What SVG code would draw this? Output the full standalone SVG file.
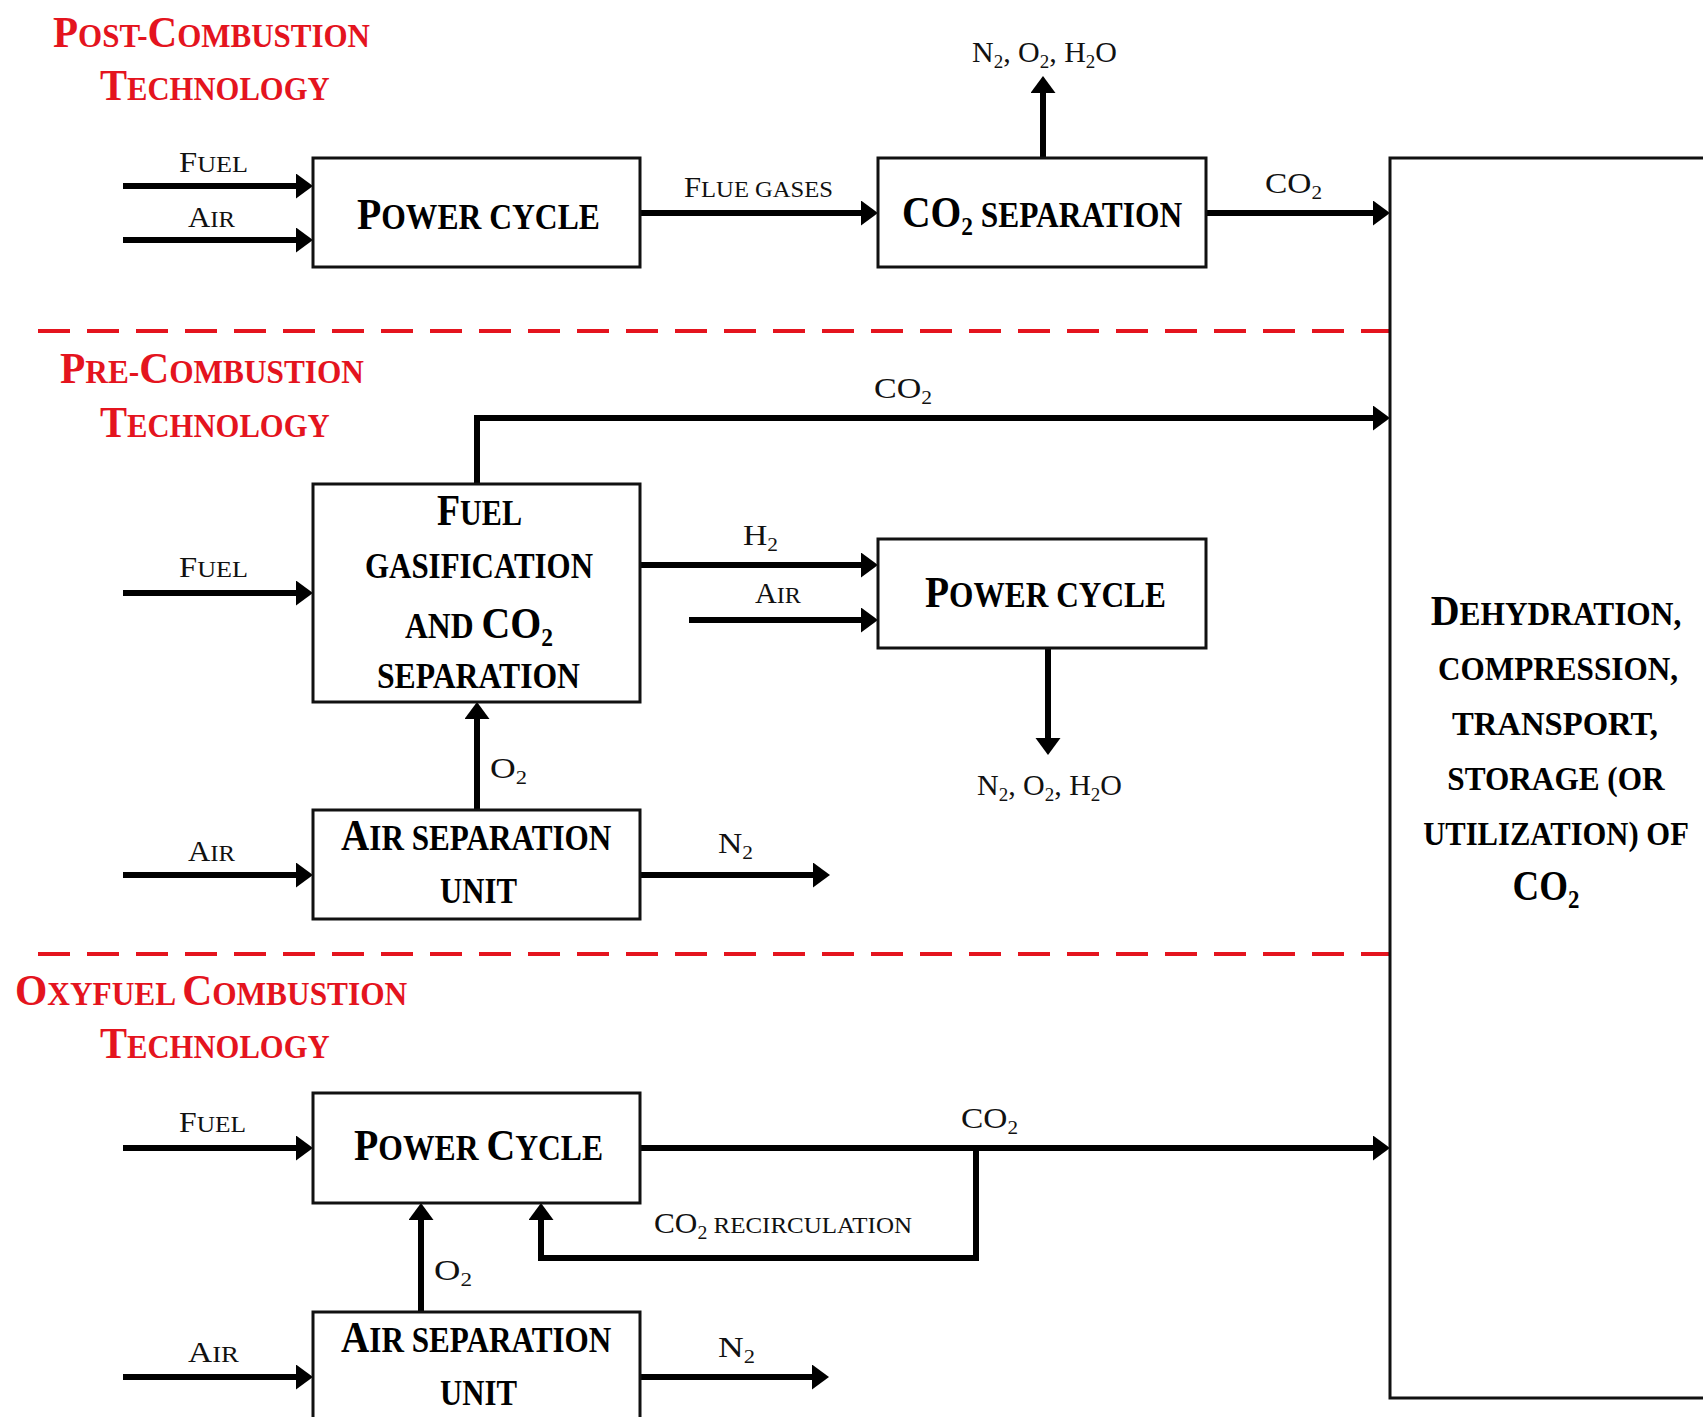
<svg xmlns="http://www.w3.org/2000/svg" width="1703" height="1417" viewBox="0 0 1703 1417">
<style>
text{font-family:"Liberation Serif","Times New Roman",serif}
.t{font-weight:bold;fill:#e4141e}
.tb{font-size:45px}.ts{font-size:34px}
.b{font-weight:bold;fill:#000}
.bb{font-size:44px}.bs{font-size:35px}.bsub{font-size:26px}
.rb{font-size:42px}.rs{font-size:33px}
.m{text-anchor:middle}
.l{fill:#111}
.lb{font-size:30px}.ls{font-size:24px}.sub{font-size:19px}
.box{fill:#fff;stroke:#111;stroke-width:3}
.sep{fill:none;stroke:#e4141e;stroke-width:4;stroke-dasharray:32 17}
.c{fill:none;stroke:#000;stroke-width:6;marker-end:url(#ah)}
</style>
<defs>
<marker id="ah" markerUnits="userSpaceOnUse" markerWidth="18" markerHeight="26" refX="2" refY="12.5" orient="auto">
<path d="M0,0 L17,12.5 L0,25 Z" fill="#000"/>
</marker>
</defs>
<rect width="1703" height="1417" fill="#fff"/>

<g id="titles">
<text class="t" transform="translate(53,47) scale(0.912,1)"><tspan class="tb">P</tspan><tspan class="ts">OST-</tspan><tspan class="tb">C</tspan><tspan class="ts">OMBUSTION</tspan></text>
<text class="t" transform="translate(100,100) scale(0.901,1)"><tspan class="tb">T</tspan><tspan class="ts">ECHNOLOGY</tspan></text>
<text class="t" transform="translate(60,383) scale(0.921,1)"><tspan class="tb">P</tspan><tspan class="ts">RE-</tspan><tspan class="tb">C</tspan><tspan class="ts">OMBUSTION</tspan></text>
<text class="t" transform="translate(100,437) scale(0.901,1)"><tspan class="tb">T</tspan><tspan class="ts">ECHNOLOGY</tspan></text>
<text class="t" transform="translate(15,1005) scale(0.922,1)"><tspan class="tb">O</tspan><tspan class="ts">XYFUEL </tspan><tspan class="tb">C</tspan><tspan class="ts">OMBUSTION</tspan></text>
<text class="t" transform="translate(100,1058) scale(0.901,1)"><tspan class="tb">T</tspan><tspan class="ts">ECHNOLOGY</tspan></text>
</g>

<g id="separators">
<line class="sep" x1="38" y1="331" x2="1390" y2="331"/>
<line class="sep" x1="38" y1="954" x2="1390" y2="954"/>
</g>

<g id="connectors">
<path class="c" d="M123,186 H298"/>
<path class="c" d="M123,240 H298"/>
<path class="c" d="M640,213 H863"/>
<path class="c" d="M1043,158 V91"/>
<path class="c" d="M1206,213 H1375"/>
<path class="c" d="M477,484 V418 H1375"/>
<path class="c" d="M123,593 H298"/>
<path class="c" d="M640,565 H863"/>
<path class="c" d="M689,620 H863"/>
<path class="c" d="M1048,648 V740"/>
<path class="c" d="M477,810 V717"/>
<path class="c" d="M123,875 H298"/>
<path class="c" d="M640,875 H815"/>
<path class="c" d="M123,1148 H298"/>
<path class="c" d="M640,1148 H1375"/>
<path class="c" d="M976,1148 V1258 H541 V1218"/>
<path class="c" d="M421,1312 V1218"/>
<path class="c" d="M123,1377 H298"/>
<path class="c" d="M640,1377 H814"/>
</g>

<g id="labels">
<text class="l" x="179" y="172" textLength="69" lengthAdjust="spacingAndGlyphs"><tspan class="lb">F</tspan><tspan class="ls">UEL</tspan></text>
<text class="l" x="188" y="227" textLength="47" lengthAdjust="spacingAndGlyphs"><tspan class="lb">A</tspan><tspan class="ls">IR</tspan></text>
<text class="l" x="684" y="197" textLength="149" lengthAdjust="spacingAndGlyphs"><tspan class="lb">F</tspan><tspan class="ls">LUE GASES</tspan></text>
<text class="l lb" x="972" y="62" textLength="145" lengthAdjust="spacingAndGlyphs">N<tspan class="sub" dy="6">2</tspan><tspan dy="-6">, O</tspan><tspan class="sub" dy="6">2</tspan><tspan dy="-6">, H</tspan><tspan class="sub" dy="6">2</tspan><tspan dy="-6">O</tspan></text>
<text class="l lb" x="1265" y="193" textLength="57" lengthAdjust="spacingAndGlyphs">CO<tspan class="sub" dy="6">2</tspan></text>
<text class="l lb" x="874" y="398" textLength="58" lengthAdjust="spacingAndGlyphs">CO<tspan class="sub" dy="6">2</tspan></text>
<text class="l" x="179" y="577" textLength="69" lengthAdjust="spacingAndGlyphs"><tspan class="lb">F</tspan><tspan class="ls">UEL</tspan></text>
<text class="l lb" x="743" y="545" textLength="35" lengthAdjust="spacingAndGlyphs">H<tspan class="sub" dy="6">2</tspan></text>
<text class="l" x="755" y="603" textLength="46" lengthAdjust="spacingAndGlyphs"><tspan class="lb">A</tspan><tspan class="ls">IR</tspan></text>
<text class="l lb" x="977" y="795" textLength="145" lengthAdjust="spacingAndGlyphs">N<tspan class="sub" dy="6">2</tspan><tspan dy="-6">, O</tspan><tspan class="sub" dy="6">2</tspan><tspan dy="-6">, H</tspan><tspan class="sub" dy="6">2</tspan><tspan dy="-6">O</tspan></text>
<text class="l lb" x="490" y="778" textLength="37" lengthAdjust="spacingAndGlyphs">O<tspan class="sub" dy="6">2</tspan></text>
<text class="l" x="188" y="861" textLength="47" lengthAdjust="spacingAndGlyphs"><tspan class="lb">A</tspan><tspan class="ls">IR</tspan></text>
<text class="l lb" x="718" y="853" textLength="35" lengthAdjust="spacingAndGlyphs">N<tspan class="sub" dy="6">2</tspan></text>
<text class="l" x="179" y="1132" textLength="67" lengthAdjust="spacingAndGlyphs"><tspan class="lb">F</tspan><tspan class="ls">UEL</tspan></text>
<text class="l lb" x="961" y="1128" textLength="57" lengthAdjust="spacingAndGlyphs">CO<tspan class="sub" dy="6">2</tspan></text>
<text class="l" x="654" y="1233" textLength="258" lengthAdjust="spacingAndGlyphs"><tspan class="lb">CO</tspan><tspan class="sub" dy="6">2</tspan><tspan class="ls" dy="-6"> RECIRCULATION</tspan></text>
<text class="l lb" x="434" y="1280" textLength="38" lengthAdjust="spacingAndGlyphs">O<tspan class="sub" dy="6">2</tspan></text>
<text class="l" x="188" y="1362" textLength="51" lengthAdjust="spacingAndGlyphs"><tspan class="lb">A</tspan><tspan class="ls">IR</tspan></text>
<text class="l lb" x="718" y="1357" textLength="37" lengthAdjust="spacingAndGlyphs">N<tspan class="sub" dy="6">2</tspan></text>
</g>

<g id="post-power-cycle">
<rect class="box" x="313" y="158" width="327" height="109"/>
<text class="b" transform="translate(357,229) scale(0.903,1)"><tspan class="bb">P</tspan><tspan class="bs">OWER CYCLE</tspan></text>
</g>
<g id="post-co2-separation">
<rect class="box" x="878" y="158" width="328" height="109"/>
<text class="b" transform="translate(902,227) scale(0.898,1)"><tspan class="bb">CO</tspan><tspan class="bsub" dy="8">2</tspan><tspan class="bs" dy="-8"> SEPARATION</tspan></text>
</g>
<g id="ccs-chain">
<path class="box" d="M1720,158 H1390 V1398 H1720"/>
<text class="b m" transform="translate(1556,625) scale(0.951,1)"><tspan class="rb">D</tspan><tspan class="rs">EHYDRATION,</tspan></text>
<text class="b m rs" transform="translate(1558,680) scale(0.945,1)">COMPRESSION,</text>
<text class="b m rs" transform="translate(1555,735) scale(0.99,1)">TRANSPORT,</text>
<text class="b m rs" transform="translate(1556,790) scale(0.947,1)">STORAGE (OR</text>
<text class="b m rs" transform="translate(1556,845) scale(0.928,1)">UTILIZATION) OF</text>
<text class="b m" transform="translate(1546,900) scale(0.88,1)"><tspan class="rb">CO</tspan><tspan class="bsub" dy="8">2</tspan></text>
</g>
<g id="pre-gasification">
<rect class="box" x="313" y="484" width="327" height="218"/>
<text class="b" transform="translate(437,525) scale(0.86,1)"><tspan class="bb">F</tspan><tspan class="bs">UEL</tspan></text>
<text class="b bs" x="365" y="578" textLength="228" lengthAdjust="spacingAndGlyphs">GASIFICATION</text>
<text class="b" transform="translate(405,638) scale(0.905,1)"><tspan class="bs">AND </tspan><tspan class="bb">CO</tspan><tspan class="bsub" dy="8">2</tspan></text>
<text class="b bs" x="377" y="688" textLength="203" lengthAdjust="spacingAndGlyphs">SEPARATION</text>
</g>
<g id="pre-power-cycle">
<rect class="box" x="878" y="539" width="328" height="109"/>
<text class="b" transform="translate(925,607) scale(0.896,1)"><tspan class="bb">P</tspan><tspan class="bs">OWER CYCLE</tspan></text>
</g>
<g id="pre-asu">
<rect class="box" x="313" y="810" width="327" height="109"/>
<text class="b" transform="translate(341,850) scale(0.89,1)"><tspan class="bb">A</tspan><tspan class="bs">IR SEPARATION</tspan></text>
<text class="b bs" x="440" y="903" textLength="77" lengthAdjust="spacingAndGlyphs">UNIT</text>
</g>
<g id="oxy-power-cycle">
<rect class="box" x="313" y="1093" width="327" height="110"/>
<text class="b" transform="translate(354,1160) scale(0.904,1)"><tspan class="bb">P</tspan><tspan class="bs">OWER </tspan><tspan class="bb">C</tspan><tspan class="bs">YCLE</tspan></text>
</g>
<g id="oxy-asu">
<rect class="box" x="313" y="1312" width="327" height="120"/>
<text class="b" transform="translate(341,1352) scale(0.89,1)"><tspan class="bb">A</tspan><tspan class="bs">IR SEPARATION</tspan></text>
<text class="b bs" x="440" y="1405" textLength="77" lengthAdjust="spacingAndGlyphs">UNIT</text>
</g>
</svg>
